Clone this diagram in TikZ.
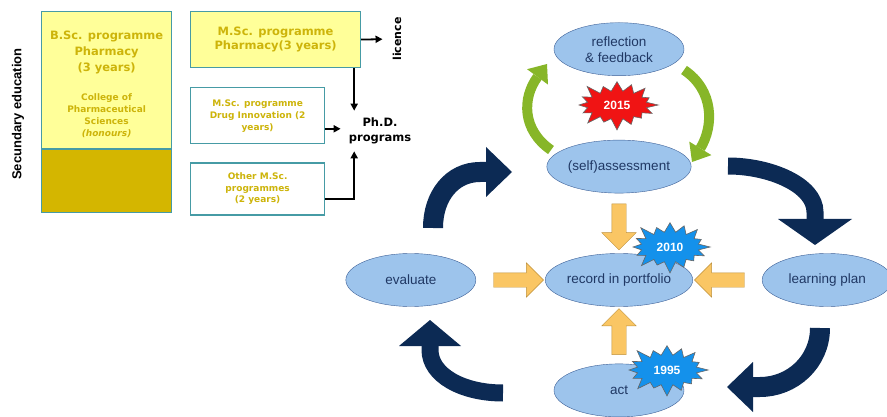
\documentclass[tikz,border=0pt]{standalone}
\usepackage{fontspec}
\setmainfont{Liberation Sans}
\newfontfamily\verd{DejaVu Sans}
\usetikzlibrary{positioning,calc,shapes.geometric,shapes.symbols,shapes.arrows,arrows.meta}

\definecolor{boxedge}{RGB}{70,155,165}
\definecolor{paleyel}{RGB}{255,255,153}
\definecolor{goldfill}{RGB}{212,182,0}
\definecolor{goldtxt}{RGB}{205,180,10}
\definecolor{ellfill}{RGB}{157,196,236}
\definecolor{elledge}{RGB}{60,95,150}
\definecolor{elltxt}{RGB}{32,56,100}
\definecolor{navyarr}{RGB}{12,42,84}
\definecolor{orfill}{RGB}{250,198,100}
\definecolor{ordraw}{RGB}{190,145,60}
\definecolor{grarrc}{RGB}{135,182,40}
\definecolor{burstred}{RGB}{240,20,20}
\definecolor{burstblue}{RGB}{20,145,235}

\begin{document}
\begin{tikzpicture}[x=1pt, y=-1pt,
  ybox/.style={rectangle, draw=boxedge, line width=1.2pt, fill=paleyel, inner sep=0pt},
  wbox/.style={ybox, fill=white},
  gtxt/.style={font=\verd\bfseries\fontsize{11.5}{16}\selectfont, text=goldtxt, align=center, inner sep=0pt},
  gsmall/.style={gtxt, font=\verd\bfseries\fontsize{9}{12}\selectfont},
  btxt/.style={font=\verd\bfseries\fontsize{11.5}{15}\selectfont, align=center, inner sep=2pt},
  barr/.style={-{Triangle[length=7pt,width=7pt]}, line width=1.8pt},
  ell/.style={ellipse, draw=elledge, fill=ellfill, minimum width=130pt, minimum height=53pt,
              align=center, inner sep=0pt, text=elltxt, font=\fontsize{13.5}{16}\selectfont},
  oarr/.style={single arrow, draw=ordraw, fill=orfill, minimum height=46pt,
               single arrow head extend=10pt, inner sep=7pt},
  burst/.style={starburst, starburst points=16, starburst point height=13pt, inner sep=0pt,
                draw=black!60, line width=0.6pt, text=white, font=\bfseries\fontsize{12}{12}\selectfont},
  navy/.style 2 args={draw=navyarr, line width=#1, -{Triangle[length=26pt,width=#2,line width=0pt]}},
  grarr/.style={draw=grarrc, line width=10pt, -{Triangle[length=16pt,width=26pt,line width=0pt]}}
]
\useasboundingbox (0,0) rectangle (887,417);

% left: study programmes
\node[rotate=90, font=\bfseries\fontsize{13}{13}\selectfont] (sec) at (18,114) {Secundary education};

\node[ybox, minimum width=130pt, minimum height=137pt, anchor=north west] (bsc) at (41,11) {};
\node[ybox, fill=goldfill, minimum width=130pt, minimum height=63pt, anchor=north] (bscbase) at (bsc.south) {};
\node[gtxt, below=20pt of bsc.north] (bsctxt) {B.Sc. programme\\Pharmacy\\(3 years)};
\node[gsmall, below=19pt of bsctxt] (college) {College of\\Pharmaceutical\\Sciences\\\textit{(honours)}};

\node[ybox, gtxt, font=\verd\bfseries\fontsize{11.5}{14}\selectfont,
      minimum width=170pt, minimum height=56pt, anchor=north west] (msc) at (190,11)
      {M.Sc. programme\\Pharmacy(3 years)};
\node[wbox, gsmall, minimum width=134pt, minimum height=56pt,
      below right=19pt and 0pt of msc.south west] (drug)
      {M.Sc. programme\\Drug Innovation (2\\years)};
\node[wbox, gsmall, font=\verd\bfseries\fontsize{9}{11.5}\selectfont, minimum width=134pt, minimum height=52pt,
      below right=18pt and 0pt of drug.south west] (other)
      {Other M.Sc.\\programmes\\(2 years)};

\node[btxt] (phd) at (380,131) {Ph.D.\\programs};
\node[btxt, rotate=90, font=\verd\bfseries\fontsize{11}{11}\selectfont] (lic) at (397,39) {licence};

\draw[barr, shorten >=8pt] (msc.east) -- (lic.north);
\draw[barr, shorten >=5pt] ([xshift=-7pt]msc.south east) -- ([xshift=-7pt]msc.south east |- phd.north);
\draw[barr, shorten >=6pt] ([yshift=-13pt]drug.east) -- ([yshift=-13pt]drug.east -| phd.west);
\draw[barr, shorten >=5pt] ([yshift=-10pt]other.east) -| ([xshift=-7pt]msc.south east |- phd.south);

% right: portfolio cycle
\node[ell] (record) at (619,280) {record in portfolio};
\node[ell, left=69pt of record]   (evalu) {evaluate};
\node[ell, right=69pt of record]  (lplan) {learning plan};
\node[ell, above=60pt of record]  (selfa) {(self)assessment};
\node[ell, below=57pt of record]  (act)   {act};
\node[ell, above=64pt of selfa]   (refl)  {reflection\\\& feedback};

\node[oarr, rotate=-90] (o1) at ($(selfa)!0.5!(record)$) {};
\node[oarr, rotate=90]  (o2) at ($(act)!0.5!(record)$) {};
\node[oarr, minimum height=50pt] (o3) at ($(evalu)!0.5!(record)$) {};
\node[oarr, minimum height=50pt, rotate=180] (o4) at ($(lplan)!0.5!(record)$) {};

\draw[grarr] (551,150) .. controls (522,130) and (522,98) .. (547,64);
\draw[grarr] (684,70) .. controls (714,90) and (714,126) .. (692,162);

\draw[navy={20pt}{50pt}] (433,228) .. controls (433,196) and (452,172) .. (480,172) -- (512,172);
\draw[navy={17pt}{74pt}] (728,166) .. controls (770,166) and (815,185) .. (815,212) -- (815,245);
\draw[navy={20pt}{50pt}] (820,328) .. controls (820,362) and (792,387) .. (760,387) -- (727,387);
\draw[navy={17pt}{62pt}] (503,393) .. controls (462,393) and (430,375) .. (430,350) -- (430,320);

\node[burst, fill=burstred, minimum width=86pt, minimum height=54pt] (b2015) at (617,105) {2015};
\node[burst, fill=burstblue, minimum width=84pt, minimum height=56pt] (b2010) at (670,247) {2010};
\node[burst, fill=burstblue, minimum width=86pt, minimum height=56pt] (b1995) at (667,370) {1995};

\end{tikzpicture}
\end{document}
